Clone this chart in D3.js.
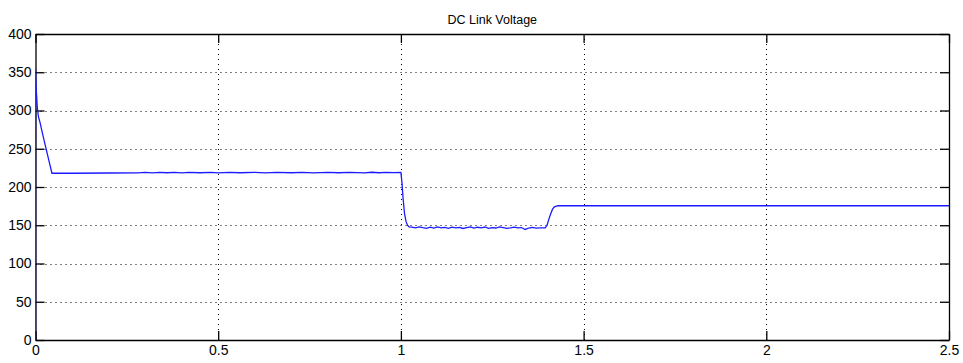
<!DOCTYPE html>
<html>
<head>
<meta charset="utf-8">
<script src="https://cdn.jsdelivr.net/npm/d3@7"></script>
<style>
  body { margin: 0; background: #fff; }
  text { font-family: "Liberation Sans Narrow", "Liberation Sans", Arial, sans-serif; fill: #000; }
</style>
</head>
<body>
<svg id="chart" width="963" height="363"></svg>
<script>
// DC link voltage trace
var title = "DC Link Voltage";
var xTicks = [0, 0.5, 1, 1.5, 2, 2.5];
var yTicks = [0, 50, 100, 150, 200, 250, 300, 350, 400];

var time = [0, 0, 0.002, 0.005, 0.008, 0.012, 0.02, 0.03, 0.04, 0.045,
  0.1, 0.2, 0.28, 0.3, 0.32, 0.34, 0.36, 0.38, 0.4, 0.42, 0.45, 0.48, 0.5,
  0.53, 0.56, 0.6, 0.63, 0.66, 0.7, 0.73, 0.76, 0.8, 0.83, 0.86, 0.9, 0.92,
  0.94, 0.96, 0.98, 1.0,
  1.003, 1.006, 1.01, 1.014, 1.018, 1.022, 1.03, 1.04, 1.05, 1.06, 1.07,
  1.08, 1.09, 1.1, 1.11, 1.12, 1.13, 1.14, 1.15, 1.16, 1.17, 1.18, 1.19,
  1.2, 1.21, 1.22, 1.23, 1.24, 1.25, 1.26, 1.27, 1.28, 1.29, 1.3, 1.31,
  1.32, 1.33, 1.34, 1.35, 1.36, 1.37, 1.38, 1.395,
  1.4, 1.405, 1.41, 1.415, 1.42, 1.43, 1.6, 1.8, 2.0, 2.2, 2.5];
var voltage = [0, 355, 328, 303, 292, 285, 268, 248, 228, 218,
  218, 218.3, 218.4, 219, 218.5, 219.2, 218.6, 219.1, 218.5, 219, 218.6, 219.2, 218.5,
  219.1, 218.6, 219.2, 218.5, 219.1, 218.6, 219.2, 218.5, 219.1, 218.6, 219.2, 218.5, 219.3,
  218.6, 219.2, 218.7, 219,
  205, 185, 165, 155, 150, 148, 147.5, 146.5, 147.8, 146.8, 146,
  147.4, 146.3, 147.8, 146.6, 147.2, 146, 147.6, 146.5, 147.3, 145.8, 147, 147.9,
  146.3, 147.4, 146.6, 147.7, 146, 147, 146.4, 147.8, 147, 146, 146.6, 147.6,
  146.6, 147, 144.5, 146.4, 147.3, 146.3, 146.6, 146.5,
  150, 158, 165, 171, 174, 175.5, 175.5, 175.5, 175.5, 175.5, 175.5];

var svg = d3.select("#chart");
var plotLeft = 35.5, plotRight = 949, plotTop = 34, plotBottom = 340;

var x = d3.scaleLinear().domain([0, 2.5]).range([plotLeft, plotRight]);
var y = d3.scaleLinear().domain([0, 400]).range([plotBottom, plotTop]);

svg.append("defs").append("clipPath").attr("id", "plotclip")
  .append("rect")
    .attr("x", plotLeft).attr("y", plotTop - 1)
    .attr("width", plotRight - plotLeft).attr("height", plotBottom - plotTop + 2);

// dotted grid
var grid = svg.append("g").attr("class", "grid");
grid.selectAll(".vgrid")
  .data(xTicks.slice(1, -1))
  .enter().append("line")
    .attr("x1", function(d) { return Math.round(x(d)) + 0.5; })
    .attr("x2", function(d) { return Math.round(x(d)) + 0.5; })
    .attr("y1", plotTop).attr("y2", plotBottom)
    .attr("stroke", "#000").attr("stroke-width", 1)
    .attr("stroke-dasharray", "1,4");
grid.selectAll(".hgrid")
  .data(yTicks.slice(1, -1))
  .enter().append("line")
    .attr("y1", function(d) { return Math.round(y(d)) + 0.5; })
    .attr("y2", function(d) { return Math.round(y(d)) + 0.5; })
    .attr("x1", plotLeft).attr("x2", plotRight)
    .attr("stroke", "#000").attr("stroke-width", 1)
    .attr("stroke-dasharray", "1,4");

// axes with inward ticks on all four sides
var yAxisL = d3.axisLeft(y).tickValues(yTicks).tickSizeInner(-9).tickSizeOuter(0).tickPadding(4)
  .tickFormat(d3.format("d"));
var yAxisR = d3.axisRight(y).tickValues(yTicks).tickSizeInner(-9).tickSizeOuter(0).tickFormat("");
var xAxisB = d3.axisBottom(x).tickValues(xTicks).tickSizeInner(-9).tickSizeOuter(0).tickPadding(5)
  .tickFormat(d3.format("~g"));
var xAxisT = d3.axisTop(x).tickValues(xTicks).tickSizeInner(-9).tickSizeOuter(0).tickFormat("");

function styleAxis(g) {
  g.select(".domain").attr("stroke", "#000").attr("stroke-width", 1.3);
  g.selectAll(".tick line").attr("stroke", "#000").attr("stroke-width", 1.3);
  g.selectAll("text").style("font-size", "14px").attr("fill", "#000")
    .style("font-family", "'Liberation Sans Narrow', 'Liberation Sans', Arial, sans-serif");
}

svg.append("g").attr("transform", "translate(" + plotLeft + ",0)").call(yAxisL).call(styleAxis);
svg.append("g").attr("transform", "translate(" + plotRight + ",0)").call(yAxisR).call(styleAxis);
svg.append("g").attr("transform", "translate(0," + plotBottom + ")").call(xAxisB).call(styleAxis);
svg.append("g").attr("transform", "translate(0," + plotTop + ")").call(xAxisT).call(styleAxis);

// the trace
var pts = time.map(function(t, i) { return [t, voltage[i]]; });
svg.append("path")
  .datum(pts)
  .attr("clip-path", "url(#plotclip)")
  .attr("fill", "none")
  .attr("stroke", "#1a1aff")
  .attr("stroke-width", 1.3)
  .attr("d", d3.line().x(function(d) { return x(d[0]); }).y(function(d) { return y(d[1]); }));

svg.append("text")
  .attr("x", (plotLeft + plotRight) / 2)
  .attr("y", 24)
  .attr("text-anchor", "middle")
  .style("font-size", "12.5px")
  .text(title);
</script>
</body>
</html>
